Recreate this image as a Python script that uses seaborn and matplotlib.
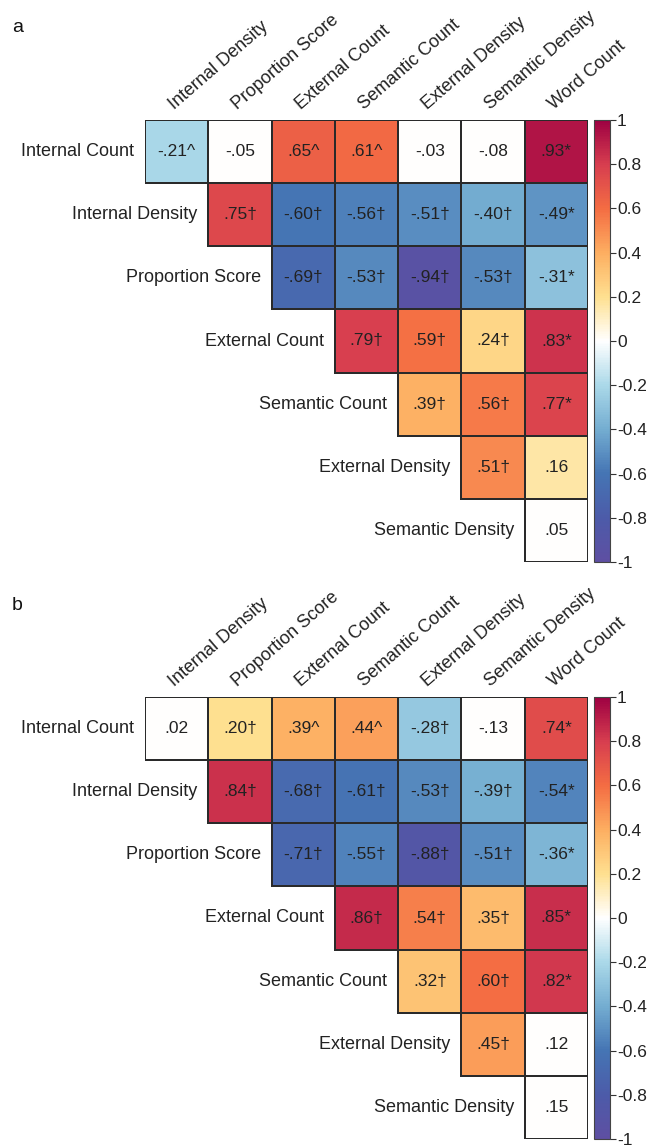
import numpy as np
import pandas as pd
import matplotlib
matplotlib.use("Agg")
import matplotlib.pyplot as plt
import seaborn as sns
from matplotlib.colors import LinearSegmentedColormap

nan = np.nan

row_labels = ["Internal Count", "Internal Density", "Proportion Score", "External Count",
              "Semantic Count", "External Density", "Semantic Density"]
col_labels = ["Internal Density", "Proportion Score", "External Count", "Semantic Count",
              "External Density", "Semantic Density", "Word Count"]

# Panel a
vals_a = [
    [-.21, -.05, .65, .61, -.03, -.08, .93],
    [nan, .75, -.60, -.56, -.51, -.40, -.49],
    [nan, nan, -.69, -.53, -.94, -.53, -.31],
    [nan, nan, nan, .79, .59, .24, .83],
    [nan, nan, nan, nan, .39, .56, .77],
    [nan, nan, nan, nan, nan, .51, .16],
    [nan, nan, nan, nan, nan, nan, .05],
]
marks_a = [
    ["^", "", "^", "^", "", "", "*"],
    ["", "†", "†", "†", "†", "†", "*"],
    ["", "", "†", "†", "†", "†", "*"],
    ["", "", "", "†", "†", "†", "*"],
    ["", "", "", "", "†", "†", "*"],
    ["", "", "", "", "", "†", ""],
    ["", "", "", "", "", "", ""],
]
white_cells_a = [(0, 1), (0, 4), (0, 5), (6, 6)]

# Panel b
vals_b = [
    [.02, .20, .39, .44, -.28, -.13, .74],
    [nan, .84, -.68, -.61, -.53, -.39, -.54],
    [nan, nan, -.71, -.55, -.88, -.51, -.36],
    [nan, nan, nan, .86, .54, .35, .85],
    [nan, nan, nan, nan, .32, .60, .82],
    [nan, nan, nan, nan, nan, .45, .12],
    [nan, nan, nan, nan, nan, nan, .15],
]
marks_b = [
    ["", "†", "^", "^", "†", "", "*"],
    ["", "†", "†", "†", "†", "†", "*"],
    ["", "", "†", "†", "†", "†", "*"],
    ["", "", "", "†", "†", "†", "*"],
    ["", "", "", "", "†", "†", "*"],
    ["", "", "", "", "", "†", ""],
    ["", "", "", "", "", "", ""],
]
white_cells_b = [(0, 0), (0, 5), (5, 6), (6, 6)]

cbar_ticks = [-1, -0.8, -0.6, -0.4, -0.2, 0, 0.2, 0.4, 0.6, 0.8, 1]

sns.set_theme(style="white")
plt.rcParams["font.family"] = ["Liberation Sans", "DejaVu Sans"]
plt.rcParams["axes.unicode_minus"] = False

cmap = LinearSegmentedColormap.from_list(
    "corr",
    [(0.0, "#5e4fa2"), (0.1, "#4c5ba9"), (0.2, "#4575b4"), (0.3, "#74add1"),
     (0.4, "#abd9e9"), (0.5, "#ffffff"), (0.6, "#fee090"), (0.7, "#fdae61"),
     (0.8, "#f46d43"), (0.9, "#d73e4f"), (1.0, "#9e0142")])

W, H = 647, 1145
fig = plt.figure(figsize=(W / 100, H / 100), dpi=100)


def fmt(v, m):
    s = f"{v:.2f}".replace("0.", ".", 1)
    return s + m


def panel(vals, marks, whites, top_px, letter):
    v = np.array(vals, dtype=float)
    mask = np.isnan(v)
    colour = v.copy()
    for (i, j) in whites:
        colour[i, j] = 0.0
    annot = np.empty(v.shape, dtype=object)
    for i in range(v.shape[0]):
        for j in range(v.shape[1]):
            annot[i, j] = "" if mask[i, j] else fmt(v[i, j], marks[i][j])
    df = pd.DataFrame(colour, index=row_labels, columns=col_labels)

    left, right = 145, 588
    bottom_px = top_px + 442
    ax = fig.add_axes([left / W, 1 - bottom_px / H, (right - left) / W, 442 / H])
    cax = fig.add_axes([594 / W, 1 - bottom_px / H, 16 / W, 442 / H])

    sns.heatmap(df, mask=mask, cmap=cmap, vmin=-1, vmax=1, annot=annot, fmt="",
                annot_kws=dict(size=12.5, color="#222222"),
                linewidths=1.2, linecolor="#2a2a2a",
                cbar_ax=cax, cbar_kws=dict(ticks=cbar_ticks),
                xticklabels=col_labels, yticklabels=False, ax=ax)

    # hide edges of masked (empty) cells
    mesh = ax.collections[0]
    ec = np.zeros((mask.size, 4))
    ec[~mask.ravel()] = [0.165, 0.165, 0.165, 1.0]
    mesh.set_edgecolors(ec)

    ax.xaxis.tick_top()
    ax.set_xticks(np.arange(len(col_labels)) + 0.5)
    ax.set_xticklabels(col_labels, rotation=41, ha="left", va="bottom",
                       rotation_mode="anchor", fontsize=13, color="#222222")
    ax.tick_params(axis="x", length=0, pad=5, top=True, bottom=False,
                   labeltop=True, labelbottom=False)
    ax.set_xlabel("")
    ax.set_ylabel("")

    for i, name in enumerate(row_labels):
        ax.text(i - 0.17, i + 0.5, name, ha="right", va="center",
                fontsize=13, color="#222222")

    cb = mesh.colorbar
    cb.set_ticks(cbar_ticks)
    cb.set_ticklabels([f"{t:g}" for t in cbar_ticks])
    cb.ax.tick_params(labelsize=12.5, length=4, width=0.8, color="#333333",
                      pad=1, labelcolor="#222222")
    cb.outline.set_edgecolor("#444444")
    cb.outline.set_linewidth(0.8)

    fig.text(12 / W, 1 - (top_px - 92) / H, letter, fontsize=14, va="center",
             ha="left", color="#111111")


panel(vals_a, marks_a, white_cells_a, 120, "a")
panel(vals_b, marks_b, white_cells_b, 697, "b")

fig.savefig("out.png", dpi=100)
